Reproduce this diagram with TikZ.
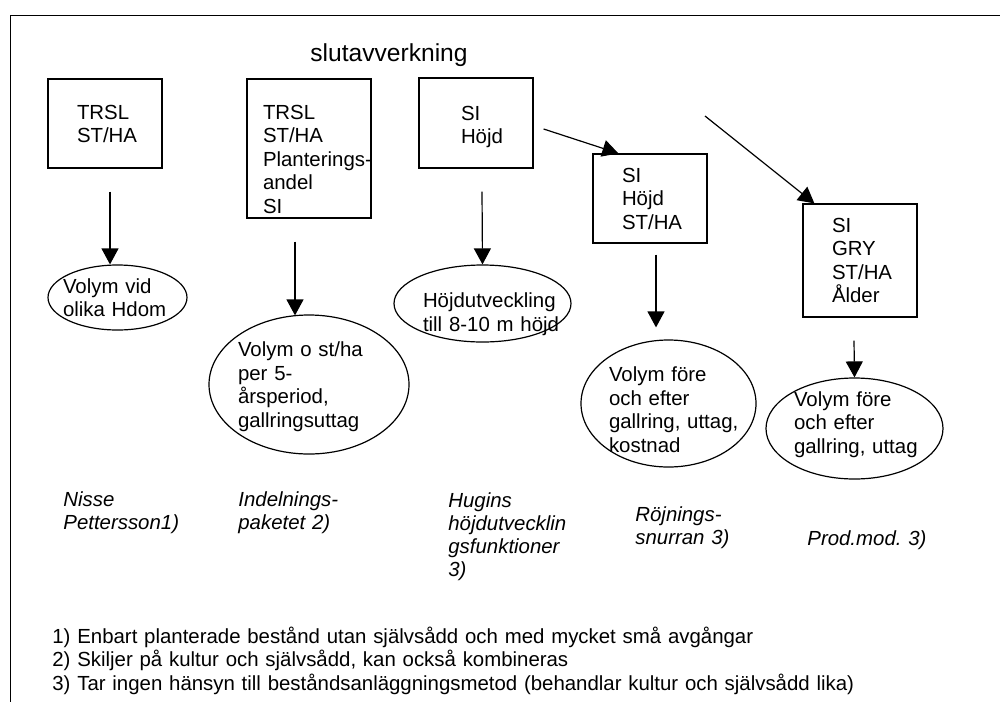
\documentclass[tikz,border=0pt]{standalone}
\usepackage{fontspec}
\setmainfont{Liberation Sans}
\usetikzlibrary{arrows.meta,calc,shapes.geometric}
\hyphenpenalty=10000
\exhyphenpenalty=10000
\frenchspacing

\begin{document}
\begin{tikzpicture}[
  x=0.5pt, y=-0.5pt,
  font=\fontsize{10.2}{11.75}\selectfont,
  box/.style={draw, line width=0.6pt, inner sep=0pt, align=left, text height=0pt},
  oval/.style={draw, ellipse, line width=0.6pt, inner xsep=-6pt, inner ysep=0pt, align=left, text height=0pt},
  src/.style={font=\fontsize{10.2}{11.6}\selectfont\itshape, align=left, text width=72pt, inner sep=0pt, anchor=base west},
  arr/.style={-{Triangle[length=8pt, width=8.5pt]}, line width=0.6pt}]
  \useasboundingbox (0,0) rectangle (1000,702);
  \draw[line width=0.5pt] (1000,15) -- (10,15) -- (10,702);
  \node[font=\fontsize{12.3}{14}\selectfont, anchor=base, inner sep=0pt] (title) at (389,61.5) {slutavverkning};
  \node[box, minimum width=57pt, minimum height=44.5pt, text width=28pt, text depth=4.5pt] (b1) at (105,123.5) {TRSL\\ST/HA};
  \node[box, minimum width=62pt, minimum height=69.5pt, text width=46pt, text depth=29.5pt] (b2) at (309,148.5) {TRSL\\ST/HA\\Planterings-\\andel\\SI};
  \node[box, minimum width=57pt, minimum height=45pt, text width=15pt, text depth=3pt] (b3) at (476,123) {SI\\Höjd};
  \node[box, minimum width=57pt, minimum height=44.5pt, text width=28pt, text depth=16.5pt] (b4) at (650,198.5) {SI\\Höjd\\ST/HA};
  \node[box, minimum width=57pt, minimum height=56.5pt, text width=28pt, text depth=28.5pt] (b5) at (860,260.5) {SI\\GRY\\ST/HA\\Ålder};
  \node[oval, minimum width=69.5pt, minimum height=32.5pt, text width=54.5pt, text depth=4.5pt] (e1) at (117.5,297.5) {Volym~vid\\olika~Hdom};
  \node[oval, minimum width=100pt, minimum height=69.5pt, text width=71pt, text depth=27.8pt] (e2) at (309,384.5) {Volym~o~st/ha\\per~5-\\årsperiod,\\gallringsuttag};
  \node[oval, minimum width=88.5pt, minimum height=38.5pt, text width=59.5pt, text height=4.2pt, text depth=0pt] (e3) at (482.5,303.5) {Höjdutveckling\\till~8-10~m~höjd};
  \node[oval, minimum width=87.5pt, minimum height=63.5pt, text width=59.5pt, text depth=21.8pt] (e4) at (668.5,403.5) {Volym~före\\och~efter\\gallring,~uttag,\\kostnad};
  \node[oval, minimum width=88.5pt, minimum height=50.5pt, text width=60.5pt, text depth=22.5pt] (e5) at (854.5,428.5) {Volym~före\\och~efter\\gallring,~uttag};
  \node[src] (nisse) at (63,506) {Nisse\\Pettersson1)};
  \node[src] (indeln) at (238,506) {Indelnings-\\paketet 2)};
  \node[src] (hugin) at (448,507) {Hugins\\höjdutvecklin\\gsfunktioner\\3)};
  \node[src] (rojn) at (635,521) {Röjnings-\\snurran 3)};
  \node[src] (prod) at (807,545) {Prod.mod. 3)};
  \node[align=left, text width=460pt, inner sep=0pt, anchor=base west] (notes) at (52,643)
    {1) Enbart planterade bestånd utan självsådd och med mycket små avgångar\\
     2) Skiljer på kultur och självsådd, kan också kombineras\\
     3) Tar ingen hänsyn till beståndsanläggningsmetod (behandlar kultur och självsådd lika)};
  \coordinate (d2) at (705,116);
  \draw[arr] ($(b1.south)+(5,23)$) -- ($(e1.north)+(-7.5,0)$);
  \draw[arr] ($(b2.south)+(-14,23)$) -- ($(e2.north)+(-14,1)$);
  \draw[arr] ($(b3.south)+(6,23)$) -- (e3.north);
  \draw[arr] ($(b4.south)+(6,11)$) -- ($(e4.north)+(-12.5,-12)$);
  \draw[arr] ($(b5.south)+(-6,23)$) -- (e5.north);
  \draw[arr] ($(b3.east)+(10,6)$) -- ($(b4.north west)+(26,0)$);
  \draw[arr] (d2) -- ($(b5.north west)+(12,0)$);
\end{tikzpicture}
\end{document}
